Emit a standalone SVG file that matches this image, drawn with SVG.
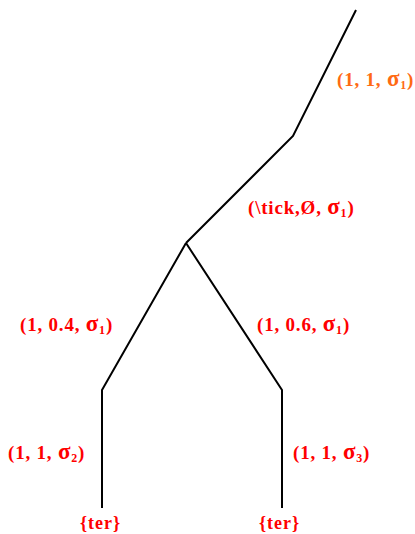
<svg xmlns="http://www.w3.org/2000/svg" width="415" height="534" viewBox="0 0 415 534">
<style>
.e{stroke:#000;stroke-width:2;fill:none}
.t{font-family:"Liberation Serif",serif;font-weight:bold;font-size:19px;letter-spacing:0.8px;fill:#ff0000}
.o{fill:#ff6a13}
.g{font-size:23px}
.s{font-size:12px}
.l{font-size:18px;letter-spacing:1px}
</style>
<rect width="415" height="534" fill="#fff"/>
<g id="connectors">
<polyline class="e" points="356,10 293,136 186,243"/>
<polyline class="e" points="186,243 102,390 102,508"/>
<polyline class="e" points="186,243 282,390 282,508"/>
</g>
<g id="label-top"><text class="t o" x="337" y="86">(1, 1, <tspan class="g">σ</tspan><tspan class="s" dy="3">1</tspan><tspan dy="-3">)</tspan></text></g>
<g id="label-mid"><text class="t" x="248" y="214">(\tick,Ø, <tspan class="g">σ</tspan><tspan class="s" dy="3">1</tspan><tspan dy="-3">)</tspan></text></g>
<g id="label-left"><text class="t" x="20" y="331">(1, 0.4, <tspan class="g">σ</tspan><tspan class="s" dy="3">1</tspan><tspan dy="-3">)</tspan></text></g>
<g id="label-right"><text class="t" x="257" y="331">(1, 0.6, <tspan class="g">σ</tspan><tspan class="s" dy="3">1</tspan><tspan dy="-3">)</tspan></text></g>
<g id="label-ll"><text class="t" x="8" y="459">(1, 1, <tspan class="g">σ</tspan><tspan class="s" dy="3">2</tspan><tspan dy="-3">)</tspan></text></g>
<g id="label-rr"><text class="t" x="293" y="459">(1, 1, <tspan class="g">σ</tspan><tspan class="s" dy="3">3</tspan><tspan dy="-3">)</tspan></text></g>
<g id="leaf-left"><text class="t l" x="80" y="529">{ter}</text></g>
<g id="leaf-right"><text class="t l" x="259" y="529">{ter}</text></g>
</svg>
